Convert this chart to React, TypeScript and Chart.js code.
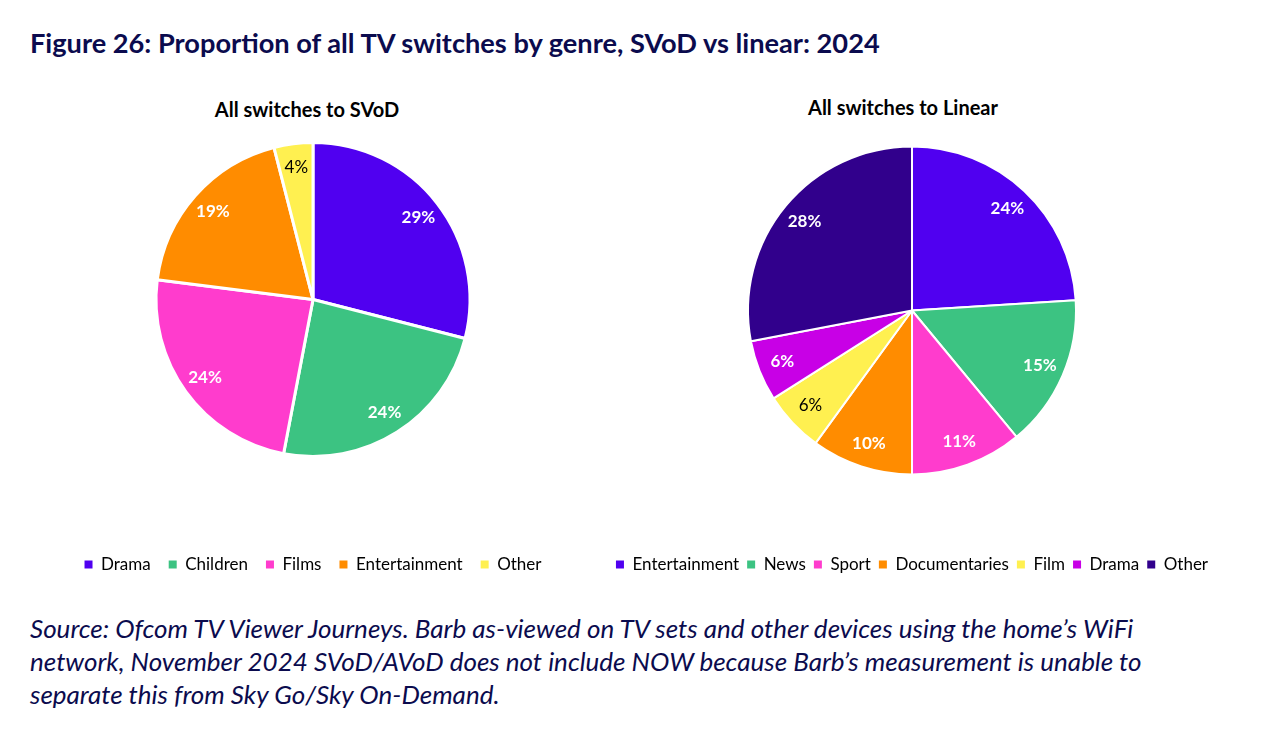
import { useEffect, useRef } from "react";
import { Chart, registerables } from "chart.js";

Chart.register(...registerables);

const svodGenres = ["Drama", "Children", "Films", "Entertainment", "Other"];
const svodShares = [29, 24, 24, 19, 4];
const svodColours = ["#5000f0", "#3cc382", "#ff3ccd", "#ff8c00", "#fff050"];

const linearGenres = ["Entertainment", "News", "Sport", "Documentaries", "Film", "Drama", "Other"];
const linearShares = [24, 15, 11, 10, 6, 6, 28];
const linearColours = ["#5000f0", "#3cc382", "#ff3ccd", "#ff8c00", "#fff050", "#c800e6", "#31008c"];

const NAVY = "#0b0b4e";
const FONT = "Lato, 'Open Sans', sans-serif";

// percentage labels, inside the slice near the rim
const sliceLabels = {
    id: "sliceLabels",
    afterDatasetsDraw(chart: any) {
        const { ctx } = chart;
        const meta = chart.getDatasetMeta(0);
        const ds = chart.data.datasets[0];
        ctx.save();
        ctx.textAlign = "center";
        ctx.textBaseline = "middle";
        meta.data.forEach((arc: any, i: number) => {
            const { x, y, startAngle, endAngle, outerRadius } = arc.getProps(
                ["x", "y", "startAngle", "endAngle", "outerRadius"],
                true
            );
            const mid = (startAngle + endAngle) / 2;
            const r = outerRadius * 0.85;
            const light = ds.backgroundColor[i] === "#fff050";
            ctx.fillStyle = light ? "#000" : "#fff";
            ctx.font = `${light ? "normal" : "bold"} 17px Lato`;
            ctx.fillText(`${ds.data[i]}%`, x + Math.cos(mid) * r, y + Math.sin(mid) * r);
        });
        ctx.restore();
    },
};

function GenrePie({
    labels,
    values,
    colours,
    radius,
    borderWidth,
    legendGap,
    box,
}: {
    labels: string[];
    values: number[];
    colours: string[];
    radius: number;
    borderWidth: number;
    legendGap: number;
    box: { left: number; top: number; width: number; height: number };
}) {
    const canvasRef = useRef<HTMLCanvasElement | null>(null);
    const chartRef = useRef<Chart | null>(null);

    useEffect(() => {
        if (!canvasRef.current) return;
        if (chartRef.current) chartRef.current.destroy();

        chartRef.current = new Chart(canvasRef.current, {
            type: "pie",
            data: {
                labels,
                datasets: [
                    {
                        data: values,
                        backgroundColor: colours,
                        borderColor: "#ffffff",
                        borderWidth,
                        radius,
                    } as any,
                ],
            },
            options: {
                responsive: false,
                maintainAspectRatio: false,
                animation: false,
                plugins: {
                    legend: {
                        position: "bottom",
                        labels: {
                            boxWidth: 8,
                            boxHeight: 8,
                            padding: legendGap,
                            color: "#000",
                            font: { family: "Lato", size: 17 },
                            generateLabels: (c: any) =>
                                (Chart as any).overrides.pie.plugins.legend.labels
                                    .generateLabels(c)
                                    .map((l: any) => ({ ...l, lineWidth: 0 })),
                        },
                    },
                    tooltip: { enabled: false },
                },
            },
            plugins: [sliceLabels],
        });

        return () => {
            if (chartRef.current) chartRef.current.destroy();
        };
    }, [labels, values, colours]);

    return (
        <canvas
            ref={canvasRef}
            width={box.width}
            height={box.height}
            style={{ position: "absolute", left: box.left, top: box.top, width: box.width, height: box.height }}
        />
    );
}

export default function App() {
    return (
        <div style={{ position: "absolute", left: 0, top: 0, width: 1270, height: 742, background: "#fff", fontFamily: FONT }}>
            <div style={{ position: "absolute", left: 30, top: 26, fontSize: 27.2, fontWeight: 700, color: NAVY, whiteSpace: "nowrap" }}>
                Figure 26: Proportion of all TV switches by genre, SVoD vs linear: 2024
            </div>
            <div style={{ position: "absolute", left: 107, width: 400, top: 97, textAlign: "center", fontSize: 20, fontWeight: 700, color: "#000" }}>
                All switches to SVoD
            </div>
            <div style={{ position: "absolute", left: 703, width: 400, top: 95, textAlign: "center", fontSize: 20, fontWeight: 700, color: "#000" }}>
                All switches to Linear
            </div>
            <GenrePie
                labels={svodGenres}
                values={svodShares}
                colours={svodColours}
                radius={157}
                borderWidth={3}
                legendGap={18}
                box={{ left: 33, top: 61, width: 560, height: 522 }}
            />
            <GenrePie
                labels={linearGenres}
                values={linearShares}
                colours={linearColours}
                radius={164}
                borderWidth={2}
                legendGap={8}
                box={{ left: 572, top: 73, width: 680, height: 510 }}
            />
            <div style={{ position: "absolute", left: 30, top: 612, fontSize: 26, fontStyle: "italic", color: NAVY, lineHeight: "33px", whiteSpace: "nowrap" }}>
                Source: Ofcom TV Viewer Journeys. Barb as-viewed on TV sets and other devices using the home’s WiFi
                <br />
                network, November 2024 SVoD/AVoD does not include NOW because Barb’s measurement is unable to
                <br />
                separate this from Sky Go/Sky On-Demand.
            </div>
        </div>
    );
}
